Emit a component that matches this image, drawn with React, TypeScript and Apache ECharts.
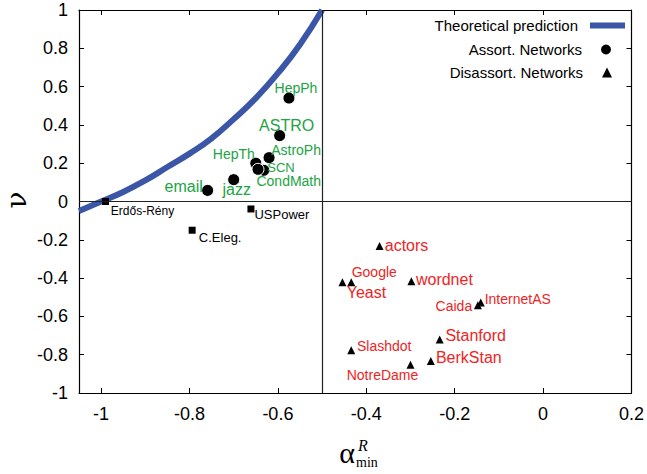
import React, { useEffect, useRef } from "react";
import * as echarts from "echarts";

// Theoretical prediction curve
const curveX = [-1.05, -1.0, -0.95, -0.9, -0.85, -0.8, -0.75, -0.7, -0.65, -0.6, -0.55, -0.5];
const curveY = [-0.05, 0.0, 0.05, 0.11, 0.18, 0.25, 0.33, 0.43, 0.54, 0.67, 0.82, 1.0];

// Assortative networks (circles)
const assortNames = ["HepPh", "ASTRO", "AstroPh", "HepTh", "CondMath", "SCN", "jazz", "email"];
const assortX = [-0.575, -0.596, -0.62, -0.65, -0.632, -0.645, -0.70, -0.759];
const assortY = [0.54, 0.344, 0.229, 0.2, 0.163, 0.168, 0.114, 0.058];

// Disassortative networks (triangles)
const disNames = ["actors", "Google", "Yeast", "wordnet", "Caida", "InternetAS", "Stanford", "BerkStan", "Slashdot", "NotreDame"];
const disX = [-0.37, -0.434, -0.454, -0.298, -0.1475, -0.141, -0.234, -0.254, -0.434, -0.3];
const disY = [-0.232, -0.422, -0.422, -0.417, -0.542, -0.528, -0.721, -0.833, -0.777, -0.852];

// Other networks (squares)
const otherNames = ["Erdős-Rény", "USPower", "C.Eleg."];
const otherX = [-0.99, -0.661, -0.794];
const otherY = [0.0, -0.039, -0.15];

// Tick labels
const xTicks = [-1, -0.8, -0.6, -0.4, -0.2, 0, 0.2];
const yTicks = [-1, -0.8, -0.6, -0.4, -0.2, 0, 0.2, 0.4, 0.6, 0.8, 1];

// Label placement (style only)
const labelStyle: Record<string, [number, number, number]> = {
  HepPh: [7, -10, 14],
  ASTRO: [7, -10, 16],
  AstroPh: [27, -8, 14],
  HepTh: [-22, -9, 14],
  CondMath: [25, 11, 14],
  SCN: [23, -2, 13],
  jazz: [3, 10, 16],
  email: [-24, -4, 16],
  "Erdős-Rény": [37, 9, 12],
  USPower: [31, 6, 13],
  "C.Eleg.": [28, 7, 13],
  actors: [27, 0, 16],
  Google: [23, -10, 14],
  Yeast: [24, 10, 16],
  wordnet: [33, -2, 16],
  Caida: [-24, 1, 14],
  InternetAS: [37, -4, 14],
  Stanford: [36, -4, 16],
  BerkStan: [38, -4, 16],
  Slashdot: [33, -4, 14],
  NotreDame: [-28, 10, 14],
};

const GREEN = "#21a444";
const RED = "#ee2424";
const BLUE = "#3b55a7";
const FONT = "'Liberation Sans', Arial, Helvetica, sans-serif";

function makeItems(names: string[], xs: number[], ys: number[], color: string) {
  return names.map((n, i) => {
    const s = labelStyle[n];
    return {
      name: n,
      value: [xs[i], ys[i]],
      label: {
        show: true,
        position: "inside",
        formatter: n,
        offset: [s[0], s[1]],
        fontSize: s[2],
        color,
        opacity: 1,
        fontFamily: FONT,
      },
    };
  });
}

export default function App() {
  const ref = useRef<HTMLDivElement>(null);
  useEffect(() => {
    if (!ref.current) return;
    const chart = echarts.init(ref.current, undefined, { renderer: "svg" });
    const axisCommon = {
      type: "value",
      splitLine: { show: false },
      axisLine: { show: true, onZero: false, lineStyle: { color: "#000", width: 1.2 } },
    };
    chart.setOption({
      animation: false,
      backgroundColor: "#fff",
      grid: { left: 79, right: 14, top: 10, bottom: 81, containLabel: false },
      legend: [
        {
          data: [{ name: "Theoretical prediction", icon: "rect" }],
          right: 22,
          top: 18,
          padding: 0,
          align: "right",
          itemWidth: 35,
          itemHeight: 6,
          textStyle: { fontSize: 15, fontFamily: FONT, color: "#000", padding: [0, 7, 0, 0] },
        },
        {
          data: [{ name: "Assort. Networks", icon: "circle" }],
          right: 34,
          top: 42,
          padding: 0,
          align: "right",
          itemWidth: 12,
          itemHeight: 12,
          itemStyle: { opacity: 1 },
          textStyle: { fontSize: 15, fontFamily: FONT, color: "#000", padding: [0, 13, 0, 0] },
        },
        {
          data: [{ name: "Disassort. Networks", icon: "triangle" }],
          right: 35,
          top: 65,
          padding: 0,
          align: "right",
          itemWidth: 10,
          itemHeight: 10,
          itemStyle: { opacity: 1 },
          textStyle: { fontSize: 15, fontFamily: FONT, color: "#000", padding: [0, 14, 0, 0] },
        },
      ],
      xAxis: [
        {
          ...axisCommon,
          position: "bottom",
          min: -1.05,
          max: 0.2,
          axisTick: { show: true, inside: true, length: 5, customValues: xTicks, lineStyle: { color: "#000" } },
          axisLabel: {
            show: true,
            customValues: xTicks,
            fontSize: 18,
            fontFamily: FONT,
            color: "#000",
            margin: 12,
            formatter: (v: number) => String(v),
          },
        },
        {
          ...axisCommon,
          position: "top",
          min: -1.05,
          max: 0.2,
          axisTick: { show: true, inside: true, length: 5, customValues: xTicks, lineStyle: { color: "#000" } },
          axisLabel: { show: false },
        },
      ],
      yAxis: [
        {
          ...axisCommon,
          position: "left",
          min: -1,
          max: 1,
          interval: 0.2,
          axisTick: { show: true, inside: true, length: 5, customValues: yTicks, lineStyle: { color: "#000" } },
          axisLabel: {
            show: true,
            customValues: yTicks,
            fontSize: 18,
            fontFamily: FONT,
            color: "#000",
            margin: 11,
            formatter: (v: number) => String(v),
          },
        },
        {
          ...axisCommon,
          position: "right",
          min: -1,
          max: 1,
          interval: 0.2,
          axisTick: { show: true, inside: true, length: 5, customValues: yTicks, lineStyle: { color: "#000" } },
          axisLabel: { show: false },
        },
      ],
      graphic: [
        {
          type: "text",
          x: 16,
          y: 200,
          rotation: Math.PI / 2,
          style: { text: "ν", fontSize: 28, fontFamily: "'DejaVu Serif', 'Liberation Serif', serif", fill: "#000", align: "center", verticalAlign: "middle" },
        },
        {
          type: "text",
          x: 347,
          y: 452,
          style: { text: "α", fontSize: 30, fontFamily: "'Liberation Serif', 'DejaVu Serif', serif", fill: "#000", align: "center", verticalAlign: "middle" },
        },
        {
          type: "text",
          x: 358,
          y: 445,
          style: { text: "R", fontSize: 16, fontStyle: "italic", fontFamily: "'Liberation Serif', serif", fill: "#000", align: "left", verticalAlign: "middle" },
        },
        {
          type: "text",
          x: 356,
          y: 462,
          style: { text: "min", fontSize: 14, fontFamily: "'Liberation Serif', serif", fill: "#000", align: "left", verticalAlign: "middle" },
        },
      ],
      series: [
        {
          name: "Theoretical prediction",
          type: "line",
          data: curveX.map((x, i) => [x, curveY[i]]),
          smooth: true,
          showSymbol: false,
          symbol: "none",
          color: BLUE,
          lineStyle: { color: BLUE, width: 6 },
          clip: true,
          z: 1,
          markLine: {
            silent: true,
            symbol: ["none", "none"],
            label: { show: false },
            lineStyle: { color: "#222", width: 1.2, type: "solid" },
            data: [{ xAxis: -0.5 }, { yAxis: 0 }],
          },
        },
        {
          name: "Assort. Networks",
          type: "scatter",
          symbol: "circle",
          symbolSize: 12,
          color: "#000",
          itemStyle: { color: "#000", borderColor: "#fff", borderWidth: 1, opacity: 1 },
          data: makeItems(assortNames, assortX, assortY, GREEN),
          z: 3,
        },
        {
          name: "Disassort. Networks",
          type: "scatter",
          symbol: "triangle",
          symbolSize: 8,
          color: "#000",
          itemStyle: { color: "#000", opacity: 1 },
          data: makeItems(disNames, disX, disY, RED),
          z: 3,
        },
        {
          name: "Other",
          type: "scatter",
          symbol: "rect",
          symbolSize: 7,
          color: "#000",
          itemStyle: { color: "#000", opacity: 1 },
          data: makeItems(otherNames, otherX, otherY, "#000"),
          z: 3,
        },
      ],
    });
    return () => chart.dispose();
  }, []);
  return (
    <div
      ref={ref}
      style={{ position: "absolute", left: 0, top: 0, width: 647, height: 474, background: "#fff" }}
    />
  );
}
